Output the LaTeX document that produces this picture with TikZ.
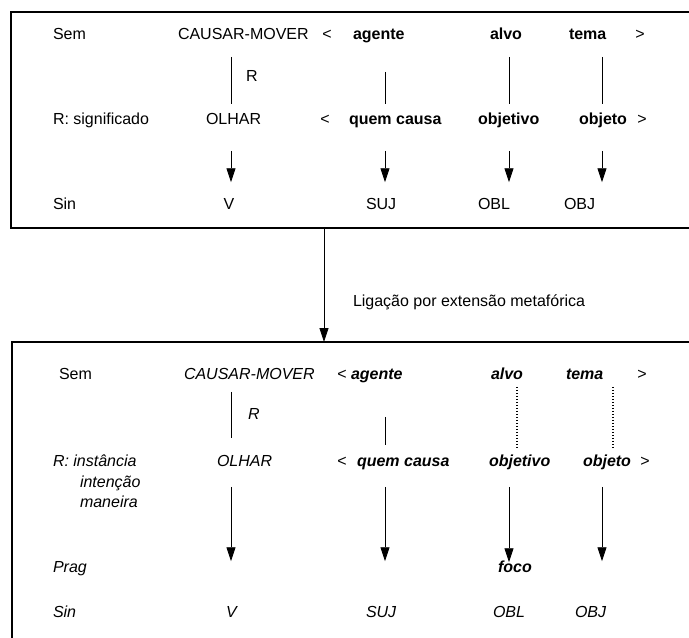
\documentclass[tikz,border=0pt]{standalone}
\usepackage{fontspec}
\setmainfont{Liberation Sans}
\usetikzlibrary{arrows.meta,positioning}
\tikzstyle{lbl}=[inner sep=0pt, outer sep=0pt, text height=12pt, text depth=3.5pt, anchor=west]
\tikzstyle{frame}=[draw, line width=2.9pt, inner sep=0pt, outer sep=0pt, anchor=north west]
\tikzstyle{link}=[line width=0.8pt]
\tikzstyle{arrow}=[line width=0.8pt, -{Triangle[length=14pt,width=9pt]}]
\tikzstyle{dotlink}=[line width=1.1pt, dash pattern=on 1.2pt off 1.8pt]

\begin{document}
\begin{tikzpicture}[x=1pt,y=-1pt,font=\fontsize{16pt}{19pt}\selectfont]
\useasboundingbox (0,0) rectangle (689,638);
\clip (0,0) rectangle (689,638);
% frames, running off the page on the right
\node (top) [frame, minimum width=730pt, minimum height=216pt] at (11,12) {};
\node (bot) [frame, minimum width=730pt, minimum height=340pt] at (12,342) {};
% columns
\coordinate (k0) at (324,0);
\coordinate (k1) at (231,0);
\coordinate (k2) at (385,0);
\coordinate (k3) at (509,0);
\coordinate (k4) at (602,0);
\coordinate (k5) at (517,0);
\coordinate (k6) at (613,0);
% upper construction
\node (sem1) [lbl] at (53,35) {Sem};
\node (cm1) [lbl] at (178,35) {CAUSAR-MOVER};
\node (lt1) [lbl,anchor=center] at (327,35) {<};
\node (ag1) [lbl] at (353,35) {\textbf{agente}};
\node (al1) [lbl] at (490,35) {\textbf{alvo}};
\node (te1) [lbl] at (569,35) {\textbf{tema}};
\node (gt1) [lbl,anchor=center] at (640,35) {>};
\node (r1) [lbl,anchor=center] at (252,77) {R};
\node (rs1) [lbl] at (53,120) {R: significado};
\node (ol1) [lbl] at (206,120) {OLHAR};
\node (lt2) [lbl,anchor=center] at (325,120) {<};
\node (qc1) [lbl] at (349,120) {\textbf{quem causa}};
\node (ob1) [lbl] at (478,120) {\textbf{objetivo}};
\node (oj1) [lbl] at (579,120) {\textbf{objeto}};
\node (gt2) [lbl,anchor=center] at (642,120) {>};
\node (sin1) [lbl] at (53,205) {Sin};
\node (v1) [lbl,anchor=center] at (229,205) {V};
\node (suj1) [lbl] at (366,205) {SUJ};
\node (obl1) [lbl] at (478,205) {OBL};
\node (obj1) [lbl] at (564,205) {OBJ};
\draw[link, shorten <=14pt, shorten >=8pt] (k1 |- cm1.south) -- (k1 |- ol1.north);
\draw[link, shorten <=29pt, shorten >=8pt] (k2 |- ag1.south) -- (k2 |- qc1.north);
\draw[link, shorten <=14pt, shorten >=8pt] (k3 |- al1.south) -- (k3 |- ob1.north);
\draw[link, shorten <=14pt, shorten >=8pt] (k4 |- te1.south) -- (k4 |- oj1.north);
\draw[arrow, shorten <=23pt, shorten >=15pt] (k1 |- ol1.south) -- (k1 |- v1.north);
\draw[arrow, shorten <=23pt, shorten >=15pt] (k2 |- qc1.south) -- (k2 |- suj1.north);
\draw[arrow, shorten <=23pt, shorten >=15pt] (k3 |- ob1.south) -- (k3 |- obl1.north);
\draw[arrow, shorten <=23pt, shorten >=15pt] (k4 |- oj1.south) -- (k4 |- obj1.north);
% link between the two
\draw[arrow] (k0 |- top.south) -- (k0 |- bot.north);
\node (lig) [lbl] at (353,302) {Ligação por extensão metafórica};
% lower construction
\node (sem2) [lbl] at (59,375) {Sem};
\node (cm2) [lbl] at (184,375) {\textit{CAUSAR-MOVER}};
\node (lt3) [lbl,anchor=center] at (342,375) {<};
\node (ag2) [lbl] at (351,375) {\textbf{\textit{agente}}};
\node (al2) [lbl] at (491,375) {\textbf{\textit{alvo}}};
\node (te2) [lbl] at (566,375) {\textbf{\textit{tema}}};
\node (gt3) [lbl,anchor=center] at (642,375) {>};
\node (r2) [lbl,anchor=center] at (254,415) {\textit{R}};
\node (ri2) [lbl] at (53,462) {\textit{R: instância}};
\node (int2) [lbl] at (80,483) {\textit{intenção}};
\node (man2) [lbl] at (80,503) {\textit{maneira}};
\node (ol2) [lbl] at (217,462) {\textit{OLHAR}};
\node (lt4) [lbl,anchor=center] at (342,462) {<};
\node (qc2) [lbl] at (357,462) {\textbf{\textit{quem causa}}};
\node (ob2) [lbl] at (489,462) {\textbf{\textit{objetivo}}};
\node (oj2) [lbl] at (583,462) {\textbf{\textit{objeto}}};
\node (gt4) [lbl,anchor=center] at (645,462) {>};
\node (prag2) [lbl] at (53,568) {\textit{Prag}};
\node (foco2) [lbl] at (498,568) {\textbf{\textit{foco}}};
\node (sin2) [lbl] at (53,613) {\textit{Sin}};
\node (v2) [lbl,anchor=center] at (232,613) {\textit{V}};
\node (suj2) [lbl] at (366,613) {\textit{SUJ}};
\node (obl2) [lbl] at (493,613) {\textit{OBL}};
\node (obj2) [lbl] at (575,613) {\textit{OBJ}};
\draw[link, shorten <=9pt, shorten >=16pt] (k1 |- cm2.south) -- (k1 |- ol2.north);
\draw[link, shorten <=34pt, shorten >=9pt] (k2 |- ag2.south) -- (k2 |- qc2.north);
\draw[dotlink, shorten <=4pt, shorten >=6pt] (k5 |- al2.south) -- (k5 |- ob2.north);
\draw[dotlink, shorten <=4pt, shorten >=6pt] (k6 |- te2.south) -- (k6 |- oj2.north);
\draw[arrow, shorten <=17pt, shorten >=-1pt] (k1 |- ol2.south) -- (k1 |- prag2.north);
\draw[arrow, shorten <=17pt, shorten >=-1pt] (k2 |- qc2.south) -- (k2 |- prag2.north);
\draw[arrow, shorten <=17pt, shorten >=-2pt] (k3 |- ob2.south) -- (k3 |- foco2.north);
\draw[arrow, shorten <=17pt, shorten >=-1pt] (k4 |- oj2.south) -- (k4 |- prag2.north);
\end{tikzpicture}
\end{document}
